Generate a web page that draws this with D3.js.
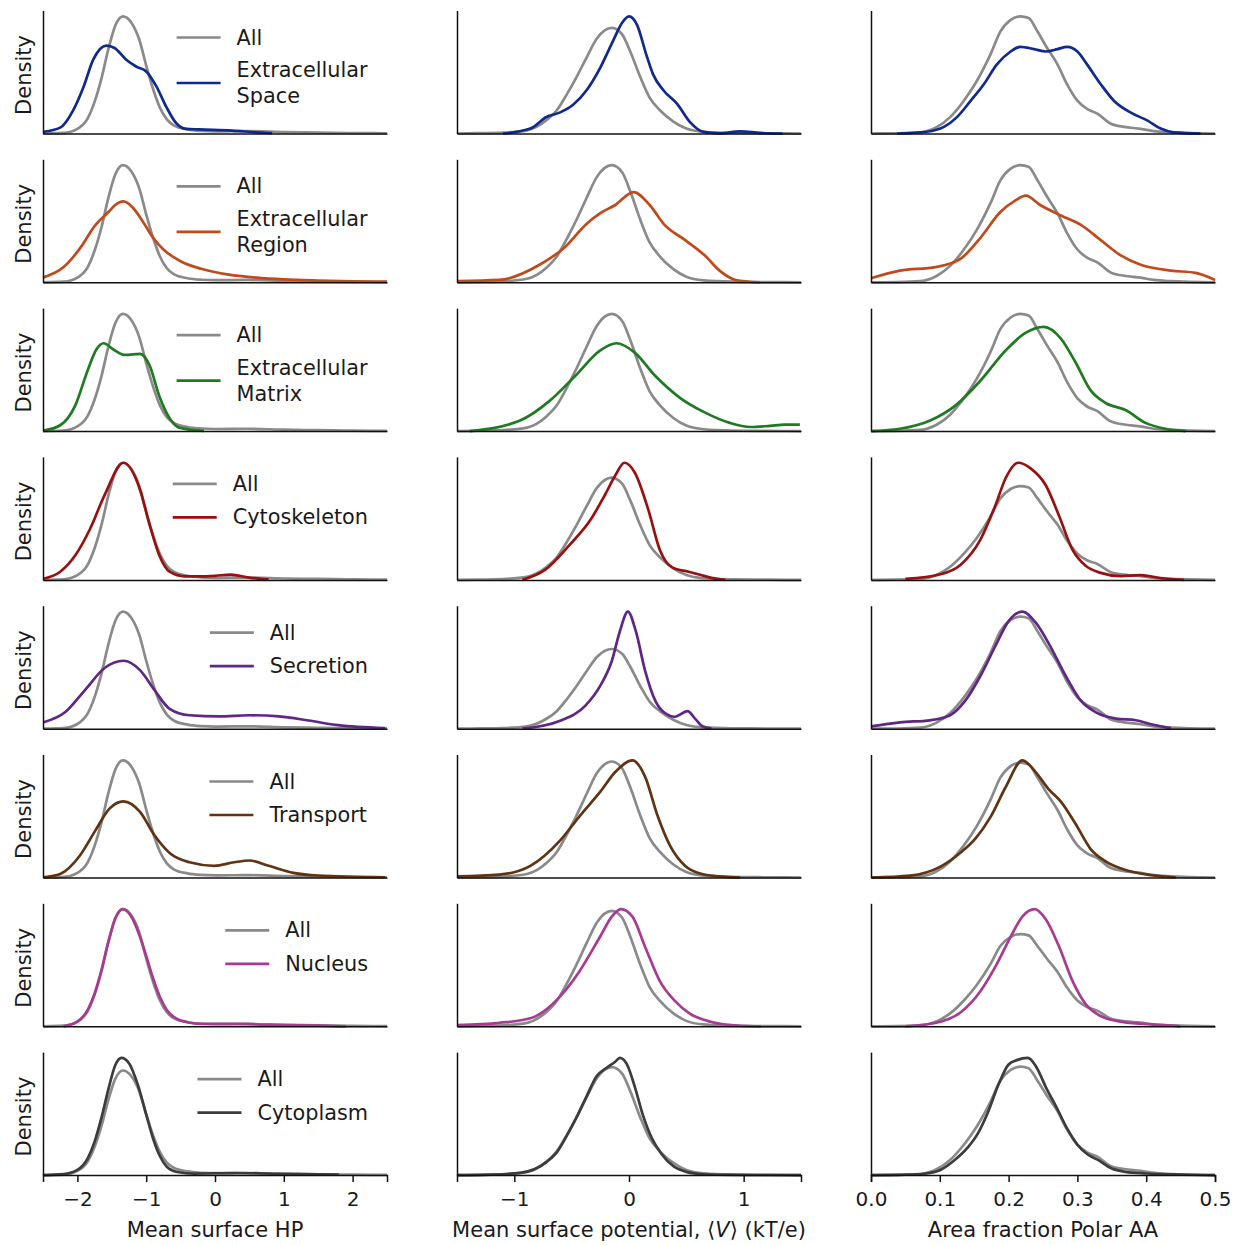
<!DOCTYPE html>
<html>
<head>
<meta charset="utf-8">
<script src="https://cdn.jsdelivr.net/npm/d3@7"></script>
<style>
  body { margin: 0; background: #fff; }
  text { font-family: "DejaVu Sans", sans-serif; fill: #1a1a1a; }
</style>
</head>
<body>
<div id="container"></div>
<script>
/* DATA (densities in units of the "All" peak of each column) */
const categories = [["Extracellular", "Space"], ["Extracellular", "Region"], ["Extracellular", "Matrix"],
  ["Cytoskeleton"], ["Secretion"], ["Transport"], ["Nucleus"], ["Cytoplasm"]];
const colors = ["#0f2a8c", "#c04a1c", "#1f7a22", "#981010", "#5f2686", "#603313", "#a83a92", "#3c3c3c"];
const allColor = "#8a8a8a";

const xLabels = ["Mean surface HP", "Mean surface potential, ", "Area fraction Polar AA"];
const xDomains = [[-2.5, 2.5], [-1.5, 1.5], [0, 0.5]];
const xTicks = [[-2, -1, 0, 1, 2], [-1, 0, 1], [0, 0.1, 0.2, 0.3, 0.4, 0.5]];

// "All" curves, one per column
const allHP = [[-2.5,0],[-2.2,0.005],[-2.0,0.04],[-1.85,0.13],[-1.75,0.27],[-1.65,0.47],[-1.55,0.72],[-1.45,0.92],[-1.34,1.0],[-1.22,0.95],[-1.1,0.8],[-1.0,0.58],[-0.9,0.38],[-0.8,0.22],[-0.7,0.12],[-0.6,0.07],[-0.4,0.035],[-0.2,0.022],[0,0.018],[0.5,0.02],[1.0,0.012],[1.5,0.008],[2.0,0.004],[2.5,0.002]];
const allV = [[-1.5,0],[-1.3,0.003],[-1.1,0.008],[-0.89,0.03],[-0.72,0.125],[-0.63,0.22],[-0.54,0.375],[-0.46,0.53],[-0.37,0.72],[-0.28,0.9],[-0.15,1.0],[-0.06,0.94],[0.01,0.78],[0.1,0.53],[0.18,0.34],[0.27,0.22],[0.39,0.11],[0.5,0.047],[0.65,0.016],[0.9,0.005],[1.2,0.002],[1.5,0]];
const allP = [[0,0],[0.038,0.002],[0.072,0.01],[0.096,0.056],[0.115,0.14],[0.135,0.28],[0.154,0.45],[0.174,0.68],[0.188,0.87],[0.203,0.97],[0.217,1.0],[0.229,0.986],[0.242,0.87],[0.256,0.73],[0.271,0.59],[0.285,0.42],[0.3,0.28],[0.314,0.21],[0.329,0.17],[0.348,0.085],[0.368,0.056],[0.392,0.04],[0.411,0.02],[0.435,0.01],[0.5,0]];

// Mean surface HP per category
const spaceHP = [[-2.49,0.015],[-2.25,0.05],[-2.06,0.2],[-1.91,0.4],[-1.77,0.63],[-1.58,0.75],[-1.46,0.73],[-1.29,0.63],[-1.14,0.57],[-1.0,0.53],[-0.85,0.4],[-0.71,0.23],[-0.56,0.085],[-0.42,0.04],[-0.23,0.035],[0.25,0.025],[0.6,0.01],[0.83,0.003]];
const regionHP = [[-2.5,0.04],[-2.2,0.13],[-1.95,0.3],[-1.75,0.48],[-1.55,0.6],[-1.45,0.66],[-1.33,0.69],[-1.2,0.64],[-1.05,0.52],[-0.9,0.38],[-0.75,0.28],[-0.5,0.18],[-0.2,0.115],[0.2,0.065],[0.6,0.04],[1.0,0.025],[1.5,0.015],[2.0,0.008],[2.5,0.005]];
const matrixHP = [[-2.49,0.005],[-2.25,0.05],[-2.03,0.22],[-1.85,0.52],[-1.72,0.7],[-1.62,0.75],[-1.46,0.69],[-1.31,0.65],[-1.09,0.66],[-0.95,0.56],[-0.81,0.3],[-0.66,0.11],[-0.52,0.03],[-0.16,0.002]];
const cytoskelHP = [[-2.49,0.01],[-2.25,0.07],[-2.03,0.21],[-1.82,0.43],[-1.6,0.73],[-1.33,1.0],[-1.09,0.77],[-0.95,0.47],[-0.81,0.21],[-0.66,0.07],[-0.44,0.03],[-0.23,0.03],[0.0,0.035],[0.23,0.045],[0.49,0.02],[0.78,0.002]];
const secretionHP = [[-2.49,0.055],[-2.18,0.14],[-1.89,0.33],[-1.6,0.52],[-1.33,0.58],[-1.09,0.5],[-0.88,0.33],[-0.66,0.17],[-0.37,0.115],[0.06,0.105],[0.49,0.115],[0.93,0.105],[1.36,0.07],[1.79,0.03],[2.47,0.005]];
const transportHP = [[-2.49,0.002],[-2.25,0.03],[-1.96,0.19],[-1.74,0.4],[-1.53,0.59],[-1.33,0.65],[-1.09,0.56],[-0.88,0.36],[-0.66,0.21],[-0.37,0.13],[-0.01,0.1],[0.28,0.13],[0.5,0.145],[0.78,0.1],[1.14,0.04],[1.5,0.017],[2.47,0.002]];
const nucleusHP = [[-2.2,0],[-2.0,0.04],[-1.85,0.14],[-1.75,0.28],[-1.65,0.48],[-1.55,0.72],[-1.45,0.92],[-1.34,1.0],[-1.22,0.94],[-1.1,0.78],[-1.0,0.6],[-0.9,0.41],[-0.8,0.25],[-0.7,0.14],[-0.6,0.08],[-0.4,0.035],[-0.2,0.02],[0.3,0.02],[0.8,0.012],[1.5,0.005],[1.9,0]];
const cytoplasmHP = [[-2.49,0],[-2.2,0.01],[-2.0,0.05],[-1.85,0.16],[-1.75,0.32],[-1.65,0.55],[-1.55,0.82],[-1.45,1.05],[-1.36,1.12],[-1.25,1.07],[-1.12,0.86],[-1.0,0.58],[-0.9,0.35],[-0.8,0.18],[-0.7,0.08],[-0.55,0.03],[-0.3,0.015],[0.3,0.02],[1.0,0.012],[1.8,0.005]];

// Mean surface potential per category
const spaceV = [[-1.1,0],[-0.86,0.047],[-0.72,0.156],[-0.6,0.2],[-0.49,0.27],[-0.37,0.41],[-0.25,0.625],[-0.14,0.875],[-0.06,1.05],[0.0,1.11],[0.07,1.03],[0.15,0.75],[0.21,0.56],[0.3,0.41],[0.42,0.28],[0.53,0.11],[0.65,0.015],[0.79,0.002],[0.97,0.02],[1.14,0.006],[1.34,0]];
const regionV = [[-1.5,0.01],[-1.13,0.02],[-0.78,0.15],[-0.56,0.3],[-0.38,0.49],[-0.25,0.59],[-0.12,0.66],[0.04,0.77],[0.18,0.66],[0.31,0.49],[0.49,0.36],[0.66,0.23],[0.79,0.1],[0.93,0.02],[1.14,0]];
const matrixV = [[-1.39,0],[-0.95,0.09],[-0.69,0.26],[-0.47,0.47],[-0.25,0.69],[-0.11,0.75],[0.05,0.67],[0.23,0.47],[0.45,0.28],[0.66,0.16],[0.88,0.07],[1.06,0.035],[1.23,0.045],[1.36,0.055],[1.49,0.055]];
const cytoskelV = [[-0.93,0],[-0.73,0.1],[-0.52,0.34],[-0.34,0.58],[-0.21,0.83],[-0.12,1.02],[-0.04,1.145],[0.05,1.05],[0.17,0.68],[0.27,0.29],[0.38,0.12],[0.52,0.08],[0.62,0.05],[0.72,0.02],[0.84,0]];
const secretionV = [[-0.93,0],[-0.6,0.1],[-0.38,0.29],[-0.25,0.54],[-0.15,0.85],[-0.08,1.22],[-0.01,1.47],[0.06,1.22],[0.14,0.73],[0.23,0.35],[0.31,0.2],[0.4,0.15],[0.51,0.22],[0.58,0.12],[0.64,0.03],[0.72,0]];
const transportV = [[-1.5,0.01],[-1.13,0.025],[-0.86,0.1],[-0.6,0.32],[-0.43,0.53],[-0.25,0.74],[-0.12,0.91],[0.03,1.01],[0.14,0.87],[0.25,0.53],[0.36,0.27],[0.49,0.1],[0.62,0.035],[0.79,0.01],[0.97,0]];
const nucleusV = [[-1.5,0.01],[-1.13,0.03],[-0.86,0.07],[-0.6,0.26],[-0.43,0.48],[-0.25,0.78],[-0.15,0.95],[-0.07,1.015],[0.03,0.95],[0.14,0.69],[0.27,0.39],[0.4,0.22],[0.53,0.11],[0.71,0.04],[0.97,0.005],[1.15,0]];
const cytoplasmV = [[-1.5,0],[-1.2,0.005],[-0.95,0.02],[-0.72,0.12],[-0.63,0.21],[-0.54,0.37],[-0.46,0.53],[-0.37,0.73],[-0.28,0.92],[-0.2,0.99],[-0.12,1.05],[-0.08,1.085],[-0.02,1.03],[0.05,0.82],[0.12,0.56],[0.2,0.34],[0.28,0.2],[0.39,0.08],[0.5,0.03],[0.65,0.008],[0.9,0.002],[1.5,0]];

// Area fraction polar AA per category
const spaceP = [[0.038,0],[0.081,0.015],[0.106,0.056],[0.125,0.14],[0.145,0.28],[0.164,0.42],[0.183,0.59],[0.203,0.7],[0.217,0.74],[0.237,0.72],[0.254,0.7],[0.271,0.72],[0.285,0.74],[0.3,0.7],[0.314,0.59],[0.334,0.42],[0.353,0.28],[0.377,0.18],[0.402,0.11],[0.421,0.042],[0.44,0.01],[0.479,0]];
const regionP = [[0,0.035],[0.042,0.1],[0.094,0.13],[0.13,0.2],[0.159,0.38],[0.188,0.6],[0.21,0.7],[0.225,0.74],[0.246,0.66],[0.276,0.57],[0.305,0.49],[0.334,0.36],[0.363,0.23],[0.392,0.15],[0.436,0.1],[0.472,0.08],[0.5,0.02]];
const matrixP = [[0,0],[0.042,0.02],[0.086,0.09],[0.123,0.22],[0.159,0.43],[0.196,0.69],[0.225,0.84],[0.251,0.89],[0.276,0.79],[0.297,0.59],[0.319,0.35],[0.341,0.24],[0.37,0.18],[0.399,0.07],[0.428,0.02],[0.457,0]];
const cytoskelP = [[0.05,0.01],[0.101,0.06],[0.13,0.16],[0.159,0.43],[0.181,0.8],[0.196,1.09],[0.214,1.25],[0.232,1.19],[0.254,1.01],[0.273,0.69],[0.293,0.32],[0.312,0.15],[0.334,0.075],[0.363,0.04],[0.392,0.05],[0.421,0.02],[0.455,0]];
const secretionP = [[0,0.02],[0.042,0.057],[0.086,0.075],[0.115,0.12],[0.137,0.25],[0.159,0.47],[0.181,0.74],[0.2,0.96],[0.22,1.045],[0.239,0.95],[0.261,0.73],[0.283,0.47],[0.305,0.25],[0.327,0.145],[0.356,0.09],[0.385,0.075],[0.407,0.04],[0.436,0.005]];
const transportP = [[0,0],[0.057,0.017],[0.101,0.095],[0.13,0.215],[0.152,0.34],[0.174,0.53],[0.196,0.79],[0.22,1.02],[0.239,0.92],[0.258,0.77],[0.276,0.66],[0.297,0.47],[0.319,0.25],[0.341,0.14],[0.37,0.065],[0.407,0.02],[0.443,0]];
const nucleusP = [[0.05,0],[0.101,0.05],[0.13,0.15],[0.159,0.38],[0.181,0.65],[0.203,0.97],[0.22,1.19],[0.238,1.27],[0.254,1.16],[0.273,0.87],[0.293,0.49],[0.312,0.24],[0.334,0.11],[0.363,0.05],[0.407,0.02],[0.45,0]];
const cytoplasmP = [[0,0],[0.05,0.004],[0.08,0.015],[0.1,0.045],[0.12,0.13],[0.14,0.25],[0.155,0.38],[0.17,0.58],[0.185,0.83],[0.2,1.02],[0.212,1.06],[0.228,1.08],[0.24,1.0],[0.255,0.8],[0.27,0.62],[0.285,0.43],[0.3,0.28],[0.315,0.19],[0.33,0.14],[0.35,0.06],[0.37,0.03],[0.4,0.015],[0.45,0.005],[0.5,0]];

const allCurves = [allHP, allV, allP];
const curves = [
  [spaceHP, spaceV, spaceP],
  [regionHP, regionV, regionP],
  [matrixHP, matrixV, matrixP],
  [cytoskelHP, cytoskelV, cytoskelP],
  [secretionHP, secretionV, secretionP],
  [transportHP, transportV, transportP],
  [nucleusHP, nucleusV, nucleusP],
  [cytoplasmHP, cytoplasmV, cytoplasmP]
];

/* LAYOUT */
const width = 1235, height = 1245;
const pw = 344, ph = 123;
const colLeft = [43, 457, 871];
const rowTop = r => 10.5 + r * 148.8;
const labelSize = 21, tickSize = 20, legendSize = 20.8, lw = 2.7;

const svg = d3.select("#container").append("svg")
  .attr("width", width).attr("height", height);

const xScales = xDomains.map(d => d3.scaleLinear().domain(d).range([0, pw]));
const fmt = [d3.format("d"), d3.format("d"), d3.format(".1f")];

categories.forEach((cat, r) => {
  for (let c = 0; c < 3; c++) {
    const g = svg.append("g").attr("transform", `translate(${colLeft[c]},${rowTop(r)})`);
    const x = xScales[c];
    const ymax = d3.max([...allCurves[c], ...curves[r][c]], d => d[1]);
    const y = d3.scaleLinear().domain([0, ymax * 1.05]).range([ph, 0]);

    const line = d3.line().x(d => x(d[0])).y(d => y(d[1])).curve(d3.curveMonotoneX);

    g.append("path").datum(allCurves[c]).attr("d", line)
      .attr("fill", "none").attr("stroke", allColor).attr("stroke-width", lw);
    g.append("path").datum(curves[r][c]).attr("d", line)
      .attr("fill", "none").attr("stroke", colors[r]).attr("stroke-width", lw);

    // spines
    const xAxis = d3.axisBottom(x).tickSizeOuter(0);
    if (r === categories.length - 1) {
      xAxis.tickValues(xTicks[c]).tickFormat(fmt[c]).tickSize(7).tickPadding(10);
    } else {
      xAxis.tickValues([]);
    }
    const xa = g.append("g").attr("transform", `translate(0,${ph})`).call(xAxis);
    xa.selectAll("path, line").attr("stroke", "#111").attr("stroke-width", 1.5);
    xa.selectAll("text").style("font-size", tickSize + "px").attr("fill", "#1a1a1a");

    const ya = g.append("g").call(d3.axisLeft(y).tickValues([]).tickSizeOuter(0));
    ya.select("path").attr("stroke", "#111").attr("stroke-width", 1.5);

    if (c === 0) {
      g.append("text")
        .attr("transform", `translate(${31 - colLeft[0]},${ph / 2 + 3}) rotate(-90)`)
        .attr("text-anchor", "middle")
        .style("font-size", labelSize + "px")
        .text("Density");

      // legend, right aligned
      const lg = g.append("g");
      const rightX = 325;
      const entries = [{label: ["All"], color: allColor}, {label: cat, color: colors[r]}];
      const y1 = 27, y2 = cat.length > 1 ? 72.5 : 60.5;
      const items = entries.map((e, i) => {
        const cy = i === 0 ? y1 : y2;
        const t = lg.append("text").style("font-size", legendSize + "px")
          .attr("dominant-baseline", "central");
        e.label.forEach((s, k) => {
          t.append("tspan").attr("x", 0)
            .attr("y", cy + (k - (e.label.length - 1) / 2) * 26).text(s);
        });
        return {t, cy, color: e.color};
      });
      const tw = d3.max(items, it => it.t.node().getBBox().width);
      const tx = rightX - tw;
      items.forEach(it => {
        it.t.selectAll("tspan").attr("x", tx);
        lg.append("line").attr("x1", tx - 60).attr("x2", tx - 16)
          .attr("y1", it.cy).attr("y2", it.cy)
          .attr("stroke", it.color).attr("stroke-width", lw);
      });
    }

    if (r === categories.length - 1) {
      const lab = g.append("text").attr("x", pw / 2).attr("y", ph + 62)
        .attr("text-anchor", "middle").style("font-size", labelSize + "px");
      lab.append("tspan").text(xLabels[c]);
      if (c === 1) {
        lab.append("tspan").text("\u27E8");
        lab.append("tspan").attr("font-style", "italic").text("V");
        lab.append("tspan").text("\u27E9 (kT/e)");
      }
    }
  }
});
</script>
</body>
</html>
